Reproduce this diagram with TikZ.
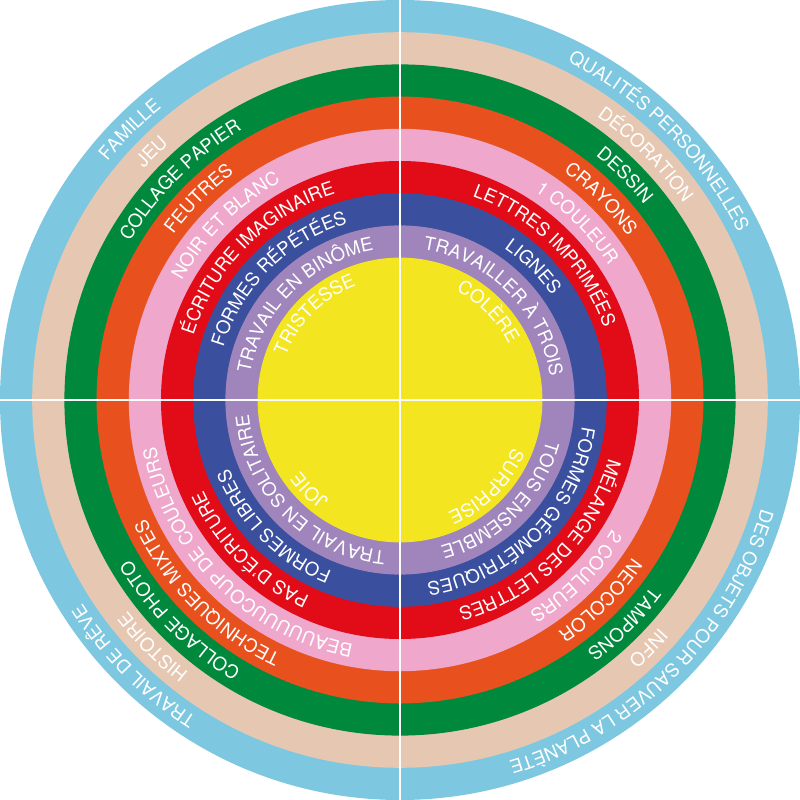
\documentclass[tikz,border=0pt]{standalone}
\usepackage{fontspec}
\setmainfont{TeX Gyre Heros}
\usetikzlibrary{decorations.text}
\definecolor{cLightBlue}{HTML}{7DC8E0}
\definecolor{cBeige}{HTML}{E6C8B2}
\definecolor{cGreen}{HTML}{00893D}
\definecolor{cOrange}{HTML}{E8511E}
\definecolor{cPink}{HTML}{EFA8CC}
\definecolor{cRed}{HTML}{E10C18}
\definecolor{cBlue}{HTML}{3A4F9E}
\definecolor{cPurple}{HTML}{9F85BC}
\definecolor{cYellow}{HTML}{F3E620}
\newcommand\lblfont{\fontsize{18.5pt}{18.5pt}\selectfont\color{white}}
\newcommand\arclabel[4]{%
  \path[decorate,decoration={text along path,text align=center,text color=white,
    text={|\lblfont|#4}}] (#2:#1pt) arc[start angle=#2,end angle=#3,radius=#1pt];}
\newcommand\ringlabels[5]{%
  \arclabel{#1}{180}{90}{#2}%
  \arclabel{#1}{90}{0}{#3}%
  \arclabel{#1}{0}{-90}{#4}%
  \arclabel{#1}{-90}{-180}{#5}}
\tikzset{sepline/.style={white,line width=2pt}}
\begin{document}
\begin{tikzpicture}
\useasboundingbox (-400pt,-400pt) rectangle (400pt,400pt);
\fill[cLightBlue] (0,0) circle[radius=400pt];
\fill[cBeige] (0,0) circle[radius=367.8pt];
\fill[cGreen] (0,0) circle[radius=335.6pt];
\fill[cOrange] (0,0) circle[radius=303.4pt];
\fill[cPink] (0,0) circle[radius=271.2pt];
\fill[cRed] (0,0) circle[radius=239pt];
\fill[cBlue] (0,0) circle[radius=206.8pt];
\fill[cPurple] (0,0) circle[radius=174.6pt];
\fill[cYellow] (0,0) circle[radius=142.4pt];
\draw[sepline] (0,-400pt) -- (0,400pt);
\draw[sepline] (-400pt,0) -- (400pt,0);
\ringlabels{377.3}{FAMILLE}{QUALITÉS PERSONNELLES}{DES OBJETS POUR SAUVER LA PLANÈTE}{TRAVAIL DE RÊVE}
\ringlabels{345.1}{JEU}{DÉCORATION}{INFO}{HISTOIRE}
\ringlabels{312.9}{COLLAGE PAPIER}{DESSIN}{TAMPONS}{COLLAGE PHOTO}
\ringlabels{280.7}{FEUTRES}{CRAYONS}{NEOCOLOR}{TECHNIQUES MIXTES}
\ringlabels{248.5}{NOIR ET BLANC}{1 COULEUR}{2 COULEURS}{BEAUUUUUCOUP DE COULEURS}
\ringlabels{216.3}{ÉCRITURE IMAGINAIRE}{LETTRES IMPRIMÉES}{MÉLANGE DES LETTRES}{PAS D’ÉCRITURE}
\ringlabels{184.1}{FORMES RÉPÉTÉES}{LIGNES}{FORMES GÉOMÉTRIQUES}{FORMES LIBRES}
\ringlabels{151.9}{TRAVAIL EN BINÔME}{TRAVAILLER À TROIS}{TOUS ENSEMBLE}{TRAVAIL EN SOLITAIRE}
\ringlabels{122.4}{TRISTESSE}{COLÈRE}{SURPRISE}{JOIE}
\end{tikzpicture}
\end{document}
